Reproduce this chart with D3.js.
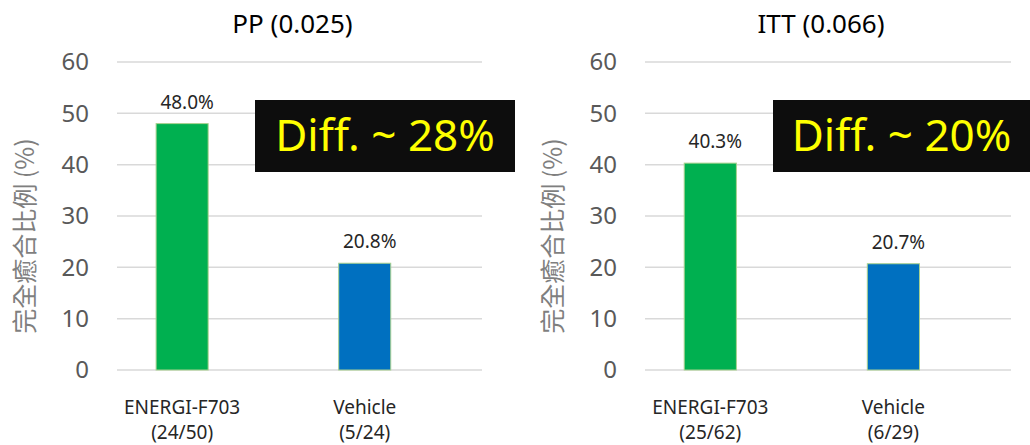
<!DOCTYPE html>
<html><head><meta charset="utf-8">
<script src="https://cdn.jsdelivr.net/npm/d3@7"></script>
<style>
html,body{margin:0;padding:0;background:#fff;}
svg{display:block;font-family:"Noto Sans","Open Sans",sans-serif;}
</style></head>
<body><svg id="c" width="1030" height="445"></svg>
<script>
const categories = ["ENERGI-F703", "Vehicle"];
const panelTitles = ["PP (0.025)", "ITT (0.066)"];
const ppValues = [48.0, 20.8];
const ittValues = [40.3, 20.7];
const ppCounts = ["(24/50)", "(5/24)"];
const ittCounts = ["(25/62)", "(6/29)"];
const diffLabels = ["Diff. ~ 28%", "Diff. ~ 20%"];
const yTicks = [0, 10, 20, 30, 40, 50, 60];
const yLabel = "完全癒合比例 (%)";
const barColors = ["#00B050", "#0070C0"];

const panels = [
  {title: panelTitles[0], values: ppValues, counts: ppCounts, diff: diffLabels[0], x0: 117, x1: 482, box: [255, 515]},
  {title: panelTitles[1], values: ittValues, counts: ittCounts, diff: diffLabels[1], x0: 645, x1: 1011, box: [773, 1030]}
];

const svg = d3.select("#c");
const y = d3.scaleLinear().domain([0, 60]).range([370, 62]);

panels.forEach(p => {
  const g = svg.append("g");
  const x = d3.scaleBand().domain(categories).range([p.x0, p.x1])
    .paddingInner(0.715).paddingOuter(0.357).align(0.3);

  g.selectAll("line.grid").data(yTicks).join("line")
    .attr("x1", p.x0).attr("x2", p.x1)
    .attr("y1", d => y(d)).attr("y2", d => y(d))
    .attr("stroke", "#d9d9d9").attr("stroke-width", 1.5);

  g.selectAll("text.yt").data(yTicks).join("text")
    .attr("x", p.x0 - 28).attr("y", d => y(d))
    .attr("dy", "0.35em").attr("text-anchor", "end")
    .attr("fill", "#595959").attr("font-size", 24)
    .text(d => d);

  g.append("text")
    .attr("transform", `translate(${p.x0 - 92},${(y(0)+y(60))/2 + 20}) rotate(-90)`)
    .attr("text-anchor", "middle").attr("dy", "0.35em")
    .attr("fill", "#7f7f7f").attr("font-size", 25)
    .attr("font-family", "'Noto Sans CJK TC','Noto Sans',sans-serif")
    .text(yLabel);

  g.selectAll("rect.bar").data(p.values).join("rect")
    .attr("x", (d, i) => x(categories[i]))
    .attr("width", x.bandwidth())
    .attr("y", d => y(d))
    .attr("height", d => y(0) - y(d))
    .attr("fill", (d, i) => barColors[i])
    .attr("stroke", "#a9d18e").attr("stroke-width", 1);

  g.selectAll("text.val").data(p.values).join("text")
    .attr("x", (d, i) => x(categories[i]) + x.bandwidth()/2 + 5)
    .attr("y", d => y(d) - 15)
    .attr("text-anchor", "middle").attr("fill", "#262626").attr("font-size", 19)
    .text(d => d.toFixed(1) + "%");

  categories.forEach((c, i) => {
    const cx = x(c) + x.bandwidth()/2;
    const t = g.append("text").attr("text-anchor", "middle")
      .attr("fill", "#262626").attr("font-size", 19);
    t.append("tspan").attr("x", cx).attr("y", 414).text(c);
    t.append("tspan").attr("x", cx).attr("y", 439).text(p.counts[i]);
  });

  g.append("text").attr("x", (p.x0 + p.x1)/2 - 7).attr("y", 33)
    .attr("text-anchor", "middle").attr("fill", "#000").attr("font-size", 26)
    .text(p.title);

  g.append("rect").attr("x", p.box[0]).attr("y", 100)
    .attr("width", p.box[1] - p.box[0]).attr("height", 72).attr("fill", "#0d0d0d");
  g.append("text").attr("x", (p.box[0] + p.box[1])/2).attr("y", 151)
    .attr("text-anchor", "middle").attr("fill", "#ffff00").attr("font-size", 44)
    .text(p.diff);
});
</script></body></html>
